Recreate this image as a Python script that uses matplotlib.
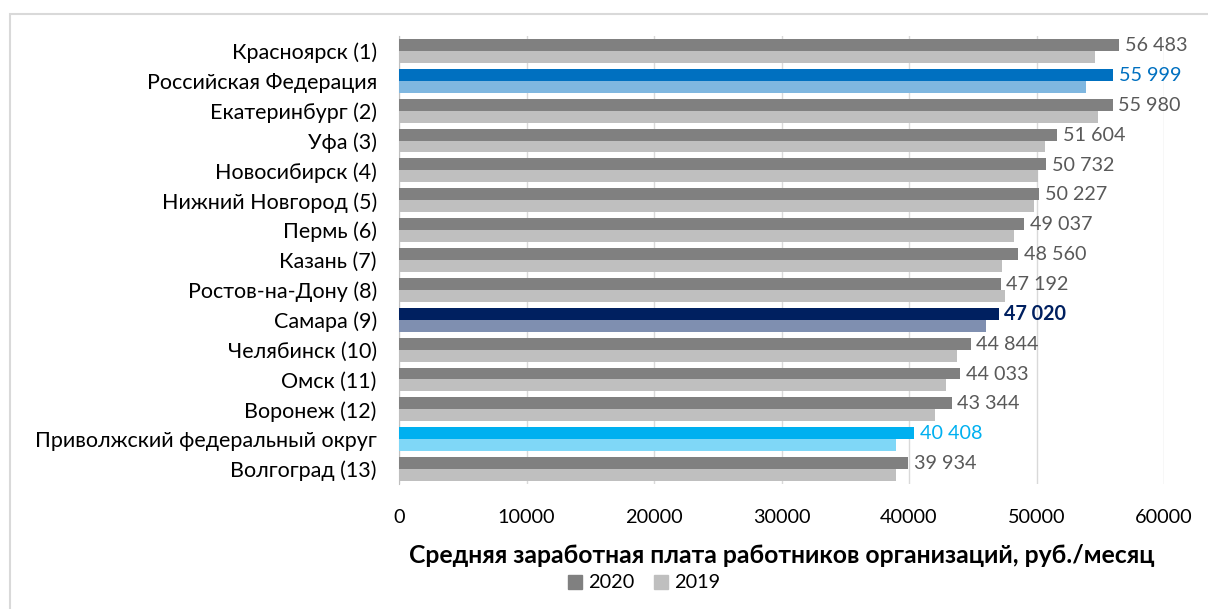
import matplotlib.pyplot as plt
from matplotlib.patches import Rectangle, Patch

# Data
cities = ['Красноярск (1)', 'Российская Федерация', 'Екатеринбург (2)', 'Уфа (3)',
          'Новосибирск (4)', 'Нижний Новгород (5)', 'Пермь (6)', 'Казань (7)',
          'Ростов-на-Дону (8)', 'Самара (9)', 'Челябинск (10)', 'Омск (11)',
          'Воронеж (12)', 'Приволжский федеральный округ', 'Волгоград (13)']
values_2020 = [56483, 55999, 55980, 51604, 50732, 50227, 49037, 48560,
               47192, 47020, 44844, 44033, 43344, 40408, 39934]
values_2019 = [54600, 53900, 54800, 50700, 50100, 49800, 48200, 47300,
               47500, 46000, 43800, 42900, 42000, 39000, 38950]
labels_2020 = ['56 483', '55 999', '55 980', '51 604', '50 732', '50 227', '49 037', '48 560',
               '47 192', '47 020', '44 844', '44 033', '43 344', '40 408', '39 934']
xticks = [0, 10000, 20000, 30000, 40000, 50000, 60000]

# highlight colours: (2020, 2019, label colour, bold)
special = {
    'Российская Федерация': ('#0070C0', '#7FB7E0', '#0070C0', False),
    'Самара (9)': ('#002060', '#7F8FB0', '#002060', True),
    'Приволжский федеральный округ': ('#00B0F0', '#7FD7F7', '#00B0F0', False),
}

plt.rcParams['font.family'] = ['Lato', 'DejaVu Sans']

fig = plt.figure(figsize=(12.08, 6.09), dpi=100)
ax = fig.add_axes([399 / 1208, 1 - 484 / 609, (1164 - 399) / 1208, (484 - 36) / 609])

h = 0.4
for i, name in enumerate(cities):
    c20, c19, lc, bold = special.get(name, ('#808080', '#BFBFBF', '#595959', False))
    ax.barh(i - h / 2, values_2020[i], height=h, color=c20, zorder=3)
    ax.barh(i + h / 2, values_2019[i], height=h, color=c19, zorder=3)
    ax.text(values_2020[i] + 450, i - h / 2 + 0.02, labels_2020[i], va='center', ha='left',
            fontsize=14.2, color=lc, fontweight='bold' if bold else 'normal')

ax.set_ylim(14.5, -0.5)
ax.set_xlim(0, 60000)
ax.set_yticks(range(len(cities)))
ax.set_yticklabels(cities, fontsize=15.5, color='#000000')
ax.set_xticks(xticks)
ax.set_xticklabels([str(t) for t in xticks], fontsize=14.3, color='#000000')
ax.tick_params(length=0)
ax.tick_params(axis='x', pad=18)
ax.tick_params(axis='y', pad=16)
ax.grid(axis='x', color='#D9D9D9', linewidth=1, zorder=0)
for s in ['top', 'right', 'bottom']:
    ax.spines[s].set_visible(False)
ax.spines['left'].set_color('#BFBFBF')

ax.set_xlabel('Средняя заработная плата работников организаций, руб./месяц',
              fontsize=17.8, fontweight='bold', labelpad=13)

handles = [Patch(color='#808080', label='2020'), Patch(color='#BFBFBF', label='2019')]
fig.legend(handles=handles, loc='center', bbox_to_anchor=(644 / 1208, 1 - 583 / 609), ncol=2,
           frameon=False, fontsize=14.3, handlelength=0.7, handleheight=0.7,
           handletextpad=0.3, columnspacing=1.0)

fig.patches.append(Rectangle((10 / 1208, -0.1), 1.2, 1 - 14 / 609 + 0.1, transform=fig.transFigure,
                             fill=False, edgecolor='#D9D9D9', linewidth=1.5))

fig.savefig('out.png', dpi=100)
